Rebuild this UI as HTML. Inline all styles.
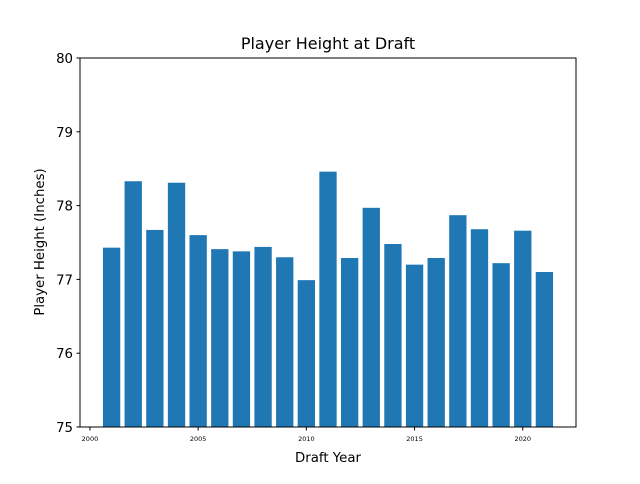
<!DOCTYPE html>
<html><head><meta charset="utf-8"><style>
body{margin:0;background:#fff;font-family:"DejaVu Sans","Liberation Sans",sans-serif}
svg text{font-family:"DejaVu Sans","Liberation Sans",sans-serif}
</style></head><body>
<svg id="chart" width="640" height="480" xmlns="http://www.w3.org/2000/svg">
<rect width="640" height="480" fill="#fff"/>
<text x="328" y="49" text-anchor="middle" font-size="16">Player Height at Draft</text>
<g id="bars"></g>
<g id="axes"></g>
<rect x="80" y="58" width="496" height="369" fill="none" stroke="#000" stroke-width="1"/>
<text x="328" y="462" text-anchor="middle" font-size="13.3">Draft Year</text>
<text x="44" y="242" text-anchor="middle" font-size="13.3" transform="rotate(-90 44 242)">Player Height (Inches)</text>
</svg>
<script>
const years=[2001,2002,2003,2004,2005,2006,2007,2008,2009,2010,2011,2012,2013,2014,2015,2016,2017,2018,2019,2020,2021];
const heights=[77.43,78.33,77.67,78.31,77.60,77.41,77.38,77.44,77.30,76.99,78.46,77.29,77.97,77.48,77.20,77.29,77.87,77.68,77.22,77.66,77.10];
const xTicks=[2000,2005,2010,2015,2020];
const yTicks=[75,76,77,78,79,80];
const NS='http://www.w3.org/2000/svg';
const xMin=1999.54,xMax=2022.46,yMin=75,yMax=80;
const L=80,R=576,T=58,B=427;
const xs=v=>L+(v-xMin)/(xMax-xMin)*(R-L);
const ys=v=>B-(v-yMin)/(yMax-yMin)*(B-T);
const bars=document.getElementById('bars'),axes=document.getElementById('axes');
years.forEach((yr,i)=>{
  const r=document.createElementNS(NS,'rect');
  const x0=xs(yr-0.4),x1=xs(yr+0.4),y0=ys(heights[i]);
  r.setAttribute('x',x0);r.setAttribute('width',x1-x0);
  r.setAttribute('y',y0);r.setAttribute('height',B-y0);
  r.setAttribute('fill','#1f77b4');
  
  
  bars.appendChild(r);
});
xTicks.forEach(t=>{
  const x=xs(t);
  const l=document.createElementNS(NS,'line');
  l.setAttribute('x1',x);l.setAttribute('x2',x);l.setAttribute('y1',B);l.setAttribute('y2',B+3.5);l.setAttribute('stroke','#000');
  
  
  axes.appendChild(l);
  const tx=document.createElementNS(NS,'text');
  tx.setAttribute('x',x);tx.setAttribute('y',B+14);tx.setAttribute('text-anchor','middle');tx.setAttribute('font-size','6.5');
  tx.textContent=t;
  
  
  axes.appendChild(tx);
});
yTicks.forEach(t=>{
  const y=ys(t);
  const l=document.createElementNS(NS,'line');
  l.setAttribute('x1',L-3.5);l.setAttribute('x2',L);l.setAttribute('y1',y);l.setAttribute('y2',y);l.setAttribute('stroke','#000');
  
  
  axes.appendChild(l);
  const tx=document.createElementNS(NS,'text');
  tx.setAttribute('x',L-7);tx.setAttribute('y',y+5);tx.setAttribute('text-anchor','end');tx.setAttribute('font-size','13.3');
  tx.textContent=t;
  
  
  axes.appendChild(tx);
});
</script>
</body></html>
